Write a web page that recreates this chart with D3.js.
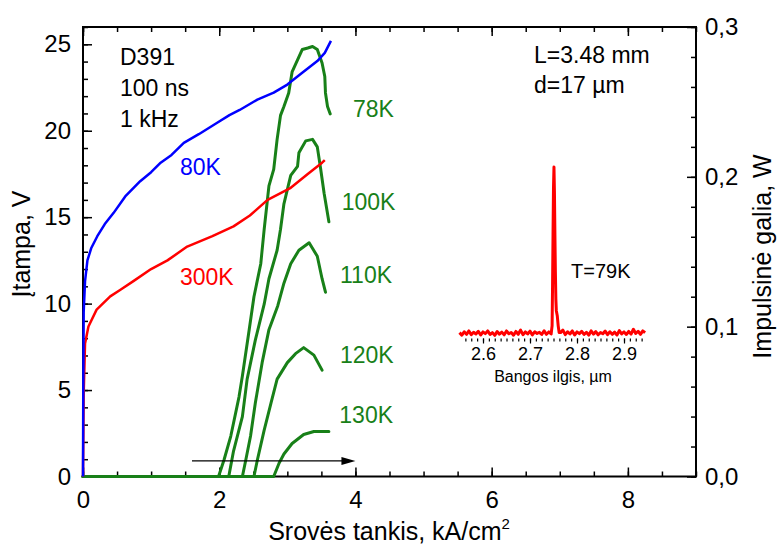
<!DOCTYPE html>
<html>
<head>
<meta charset="utf-8">
<script src="https://cdn.jsdelivr.net/npm/d3@7"></script>
<style>
  body { margin: 0; background: #fff; }
  svg { display: block; font-family: "Liberation Sans", Arial, sans-serif; }
</style>
</head>
<body>
<svg id="chart" width="781" height="544"></svg>
<script>
// voltage curves (left axis, V) vs current density (kA/cm2)
let v80K = [[0,0],[0.004,5],[0.01,9.5],[0.03,11.3],[0.065,12.5],[0.12,13.2],[0.21,13.9],[0.32,14.6],
  [0.45,15.25],[0.62,16.2],[0.84,17.08],[1.0,17.6],[1.14,18.15],[1.3,18.6],[1.48,19.3],[1.7,19.8],
  [1.97,20.46],[2.15,20.9],[2.3,21.2],[2.56,21.8],[2.8,22.2],[3.0,22.67],[3.2,23.3],[3.44,24.03],[3.55,24.5],[3.64,25.2]];
let v300K = [[0,0],[0.01,4.8],[0.03,7.7],[0.08,8.68],[0.2,9.65],[0.4,10.42],[0.55,10.8],[0.74,11.3],
  [1.0,12.0],[1.24,12.5],[1.53,13.3],[1.9,13.9],[2.21,14.47],[2.45,15.1],[2.71,16.0],[3.05,16.7],
  [3.3,17.5],[3.51,18.15],[3.55,18.3]];

// output power curves (right axis, W)
let p78K = [[0,0],[1.99,0],[2.07,0.011],[2.17,0.027],[2.29,0.053],[2.34,0.067],[2.44,0.098],[2.51,0.120],
  [2.61,0.142],[2.66,0.165],[2.73,0.194],[2.80,0.205],[2.85,0.225],[2.90,0.241],[2.95,0.247],[3.02,0.256],
  [3.07,0.270],[3.15,0.278],[3.22,0.285],[3.30,0.286],[3.37,0.287],[3.44,0.285],[3.51,0.276],[3.55,0.267],
  [3.56,0.256],[3.59,0.247],[3.63,0.242]];
let p100K = [[0,0],[2.14,0],[2.21,0.017],[2.34,0.040],[2.41,0.065],[2.53,0.091],[2.66,0.115],[2.73,0.132],
  [2.85,0.151],[2.90,0.165],[2.95,0.182],[3.05,0.201],[3.15,0.207],[3.17,0.216],[3.27,0.224],[3.37,0.225],
  [3.44,0.220],[3.49,0.205],[3.54,0.189],[3.61,0.170]];
let p110K = [[0,0],[2.34,0],[2.39,0.011],[2.46,0.027],[2.53,0.049],[2.63,0.076],[2.73,0.098],[2.86,0.114],
  [2.95,0.129],[3.05,0.142],[3.17,0.151],[3.32,0.156],[3.44,0.147],[3.51,0.132],[3.56,0.123]];
let p120K = [[0,0],[2.51,0],[2.56,0.011],[2.66,0.031],[2.76,0.049],[2.85,0.065],[3.0,0.076],[3.12,0.082],
  [3.24,0.086],[3.39,0.081],[3.51,0.071]];
let p130K = [[0,0],[2.80,0],[2.88,0.009],[2.95,0.015],[3.07,0.022],[3.24,0.028],[3.39,0.030],[3.61,0.030]];

let powerCurves = [p78K, p100K, p110K, p120K, p130K];
let powerLabels = ["78K", "100K", "110K", "120K", "130K"];

// inset spectrum: wavelength (um), normalised intensity
let spectrum = [
  [2.550,0.020],[2.555,0.005],[2.560,0.025],[2.565,0.010],[2.570,0.030],[2.575,0.008],[2.580,0.022],[2.585,0.012],
  [2.590,0.028],[2.595,0.006],[2.600,0.024],[2.605,0.014],[2.610,0.030],[2.615,0.009],[2.620,0.020],[2.625,0.004],
  [2.630,0.026],[2.635,0.011],[2.640,0.023],[2.645,0.007],[2.650,0.030],[2.655,0.013],[2.660,0.021],[2.665,0.005],
  [2.670,0.027],[2.675,0.010],[2.680,0.035],[2.685,0.008],[2.690,0.024],[2.695,0.012],[2.700,0.029],[2.705,0.006],
  [2.710,0.025],[2.715,0.015],[2.720,0.022],[2.725,0.009],[2.730,0.031],[2.735,0.010],[2.740,0.024],[2.745,0.012],
  [2.747,0.060],[2.748,0.300],[2.749,0.600],[2.750,0.880],[2.751,1.000],[2.752,0.850],[2.753,0.600],[2.754,0.380],
  [2.755,0.220],[2.756,0.150],[2.758,0.120],[2.760,0.060],[2.762,0.020],
  [2.765,0.020],[2.770,0.035],[2.775,0.008],[2.780,0.025],[2.785,0.012],[2.790,0.030],[2.795,0.006],[2.800,0.024],
  [2.805,0.014],[2.810,0.028],[2.815,0.009],[2.820,0.022],[2.825,0.005],[2.830,0.030],[2.835,0.011],[2.840,0.026],
  [2.845,0.007],[2.850,0.021],[2.855,0.013],[2.860,0.029],[2.865,0.008],[2.870,0.025],[2.875,0.010],[2.880,0.023],
  [2.885,0.006],[2.890,0.032],[2.895,0.012],[2.900,0.024],[2.905,0.009],[2.910,0.027],[2.915,0.011],[2.920,0.040],
  [2.925,0.015],[2.930,0.028],[2.935,0.010],[2.940,0.030],[2.945,0.020]];

let xTicks = [0, 2, 4, 6, 8];
let yLeftTicks = [0, 5, 10, 15, 20, 25];
let yRightTicks = [0, 0.1, 0.2, 0.3];
let insetTicks = [2.6, 2.7, 2.8, 2.9];
let infoLeft = ["D391", "100 ns", "1 kHz"];
let infoRight = ["L=3.48 mm", "d=17 \u00b5m"];
let arrowSpan = [1.6, 4.0];
let arrowLevel = 0.9;

const colorGreen = "#188018";
const svg = d3.select("#chart");
const plotL = 83, plotR = 696, plotT = 27, plotB = 476.5;

const x = d3.scaleLinear([0, 9], [plotL, plotR]);
const yL = d3.scaleLinear([0, 26], [plotB, plotT]);
const yR = d3.scaleLinear([0, 0.3], [plotB, plotT]);

const commaFmt = d => d3.format(".1f")(d).replace(".", ",");

function styleAxis(g, size) {
  g.select(".domain").remove();
  g.selectAll(".tick line").attr("stroke", "#000").attr("stroke-width", 1.5);
  g.selectAll(".tick text").attr("font-size", size).attr("fill", "#000")
    .attr("font-family", "Liberation Sans, Arial, sans-serif");
}

// minor ticks
svg.append("g").attr("transform", `translate(0,${plotB})`)
  .call(d3.axisBottom(x).tickValues(d3.range(0, 9.01, 0.5)).tickSize(-5).tickFormat(""))
  .call(g => styleAxis(g, 0));
svg.append("g").attr("transform", `translate(0,${plotT})`)
  .call(d3.axisTop(x).tickValues(d3.range(0, 9.01, 0.5)).tickSize(-5).tickFormat(""))
  .call(g => styleAxis(g, 0));
svg.append("g").attr("transform", `translate(${plotL},0)`)
  .call(d3.axisLeft(yL).tickValues(d3.range(0, 26.01, 1)).tickSize(-5).tickFormat(""))
  .call(g => styleAxis(g, 0));
svg.append("g").attr("transform", `translate(${plotR},0)`)
  .call(d3.axisRight(yR).tickValues(d3.range(0, 0.301, 0.02)).tickSize(-5).tickFormat(""))
  .call(g => styleAxis(g, 0));

// major ticks
svg.append("g").attr("transform", `translate(0,${plotB})`)
  .call(d3.axisBottom(x).tickValues(xTicks).tickSize(-9).tickPadding(14).tickFormat(d3.format("d")))
  .call(g => styleAxis(g, 24));
svg.append("g").attr("transform", `translate(0,${plotT})`)
  .call(d3.axisTop(x).tickValues(xTicks).tickSize(-9).tickFormat(""))
  .call(g => styleAxis(g, 0));
svg.append("g").attr("transform", `translate(${plotL},0)`)
  .call(d3.axisLeft(yL).tickValues(yLeftTicks).tickSize(-9).tickPadding(12).tickFormat(d3.format("d")))
  .call(g => styleAxis(g, 24));
svg.append("g").attr("transform", `translate(${plotR},0)`)
  .call(d3.axisRight(yR).tickValues(yRightTicks).tickSize(-9).tickPadding(9).tickFormat(commaFmt))
  .call(g => styleAxis(g, 24));

// frame
svg.append("rect")
  .attr("x", plotL).attr("y", plotT)
  .attr("width", plotR - plotL).attr("height", plotB - plotT)
  .attr("fill", "none").attr("stroke", "#000").attr("stroke-width", 2);

// curves
const lineL = d3.line().x(d => x(d[0])).y(d => yL(d[1]));
const lineR = d3.line().x(d => x(d[0])).y(d => yR(d[1]));

svg.selectAll("path.power").data(powerCurves).join("path")
  .attr("class", "power")
  .attr("d", lineR)
  .attr("fill", "none").attr("stroke", colorGreen).attr("stroke-width", 3)
  .attr("stroke-linejoin", "round").attr("stroke-linecap", "round");

svg.append("path").attr("d", lineL(v300K))
  .attr("fill", "none").attr("stroke", "#ff0000").attr("stroke-width", 2.5).attr("stroke-linejoin", "round");
svg.append("path").attr("d", lineL(v80K))
  .attr("fill", "none").attr("stroke", "#0000ff").attr("stroke-width", 2.5).attr("stroke-linejoin", "round");

// arrow
const ay = yL(arrowLevel);
const ax0 = x(arrowSpan[0]), ax1 = x(arrowSpan[1]);
svg.append("line").attr("x1", ax0).attr("x2", ax1 - 10).attr("y1", ay).attr("y2", ay)
  .attr("stroke", "#000").attr("stroke-width", 1.3);
svg.append("path")
  .attr("d", `M${ax1},${ay} L${ax1 - 14},${ay - 4} L${ax1 - 14},${ay + 4} Z`)
  .attr("fill", "#000");

// labels
const labelPos = [[353, 116.7], [341.7, 210], [340, 282.7], [340, 362.7], [339.3, 422.7]];
svg.selectAll("text.plabel").data(powerLabels).join("text")
  .attr("class", "plabel")
  .attr("x", (d, i) => labelPos[i][0]).attr("y", (d, i) => labelPos[i][1])
  .attr("font-size", 23).attr("fill", colorGreen).text(d => d);

svg.append("text").attr("x", 180).attr("y", 175).attr("font-size", 23).attr("fill", "#0000ff").text("80K");
svg.append("text").attr("x", 180).attr("y", 285).attr("font-size", 23).attr("fill", "#ff0000").text("300K");

svg.selectAll("text.infoL").data(infoLeft).join("text")
  .attr("class", "infoL")
  .attr("x", 120).attr("y", (d, i) => 65 + i * 31)
  .attr("font-size", 23).attr("fill", "#000").text(d => d);
svg.selectAll("text.infoR").data(infoRight).join("text")
  .attr("class", "infoR")
  .attr("x", 534).attr("y", (d, i) => 63.3 + i * 29.5)
  .attr("font-size", 23).attr("fill", "#000").text(d => d);

// axis titles
const xt = svg.append("text").attr("x", 389).attr("y", 540).attr("text-anchor", "middle")
  .attr("font-size", 25).attr("fill", "#000");
xt.append("tspan").text("Srov\u0117s tankis, kA/cm");
xt.append("tspan").attr("font-size", 15).attr("dy", -11).text("2");

svg.append("text").attr("transform", "translate(30,244) rotate(-90)")
  .attr("text-anchor", "middle").attr("font-size", 25).attr("fill", "#000")
  .text("\u012etampa, V");
svg.append("text").attr("transform", "translate(771,256.5) rotate(-90)")
  .attr("text-anchor", "middle").attr("font-size", 25).attr("fill", "#000")
  .text("Impulsin\u0117 galia, W");

// inset spectrum
const xi = d3.scaleLinear([2.6, 2.9], [483, 624]);
const yi = d3.scaleLinear([0, 1], [336, 167]);
const insetAxisY = 338.5;

svg.append("g").attr("transform", `translate(0,${insetAxisY})`)
  .call(d3.axisBottom(xi).tickValues(d3.range(2.5625, 2.94, 0.0125)).tickSize(3).tickFormat(""))
  .call(g => styleAxis(g, 0))
  .call(g => g.selectAll(".tick line").attr("stroke-width", 1.2));
svg.append("g").attr("transform", `translate(0,${insetAxisY})`)
  .call(d3.axisBottom(xi).tickValues(insetTicks).tickSize(5).tickPadding(4).tickFormat(d3.format(".1f")))
  .call(g => styleAxis(g, 18))
  .call(g => g.selectAll(".tick line").attr("stroke-width", 1.2));

svg.append("path")
  .attr("d", d3.line().x(d => xi(d[0])).y(d => yi(d[1]))(spectrum))
  .attr("fill", "none").attr("stroke", "#ff0000").attr("stroke-width", 3).attr("stroke-linejoin", "round");

svg.append("text").attr("x", 553).attr("y", 381.7).attr("text-anchor", "middle")
  .attr("font-size", 16).attr("fill", "#000").text("Bangos ilgis, \u00b5m");
svg.append("text").attr("x", 571).attr("y", 278.3)
  .attr("font-size", 20).attr("fill", "#000").text("T=79K");
</script>
</body>
</html>
